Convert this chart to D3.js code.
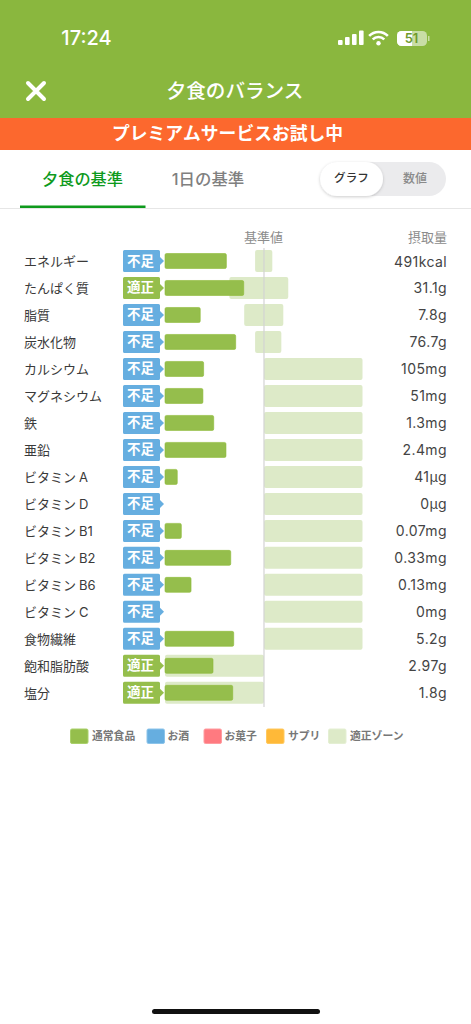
<!DOCTYPE html>
<html lang="ja"><head><meta charset="utf-8">
<script src="https://d3js.org/d3.v7.min.js"></script>
<style>
html,body{margin:0;padding:0;background:#fff}
svg{display:block}
text{font-family:Inter,"Noto Sans CJK JP","Noto Sans",sans-serif}
</style></head><body><svg id="c" width="471" height="1024" viewBox="0 0 471 1024"></svg>
<script>
const nutrients=["エネルギー","たんぱく質","脂質","炭水化物","カルシウム","マグネシウム","鉄","亜鉛","ビタミンA","ビタミンD","ビタミンB1","ビタミンB2","ビタミンB6","ビタミンC","食物繊維","飽和脂肪酸","塩分"];
const statuses=["不足","適正","不足","不足","不足","不足","不足","不足","不足","不足","不足","不足","不足","不足","不足","適正","適正"];
const percents=[62,79.5,35.6,71.4,39,38.3,49.2,61.6,12.4,0,16.5,66.4,26.3,0,69.4,48.5,68.4];
const zoneLow=[91,65,80,91,100,100,100,100,100,100,100,100,100,100,100,0,0];
const zoneHigh=[108.4,124.5,119.5,117.5,199.5,199.5,199.5,199.5,199.5,199.5,199.5,199.5,199.5,199.5,199.5,100,100];
const intakes=["491kcal","31.1g","7.8g","76.7g","105mg","51mg","1.3mg","2.4mg","41µg","0µg","0.07mg","0.33mg","0.13mg","0mg","5.2g","2.97g","1.8g"];
const legendNames=["通常食品","お酒","お菓子","サプリ","適正ゾーン"];
const legendFills=["#95BE4C","#66AEE0","#FF7A80","#FFB938","#DDEAC8"];
const legendStrokes=["#A9D06A","#8CC4EA","#FF9CA0","#FFC95F","#E4EFD3"];
const legendX=[70,146.5,203.5,266,328];

const svg=d3.select("#c");
const GREEN="#8AB73E", BAR="#95BE4C", BLUE="#66AEE0", ZONE="#DDEAC8";
const txt=(x,y,s,size,fill,w=400,anchor="start",ls=0)=>svg.append("text").attr("x",x).attr("y",y).attr("font-size",size).attr("fill",fill).attr("font-weight",w).attr("text-anchor",anchor).attr("dominant-baseline","central").attr("letter-spacing",ls).text(s);

// Header
svg.append("rect").attr("width",471).attr("height",118).attr("fill",GREEN);
svg.append("rect").attr("y",118).attr("width",471).attr("height",32).attr("fill","#FC682E");
txt(86.5,37.5,"17:24",20,"#fff",500,"middle");
[[338,5],[345,8],[352,11],[359,14.5]].forEach(([x,h])=>svg.append("rect").attr("x",x).attr("y",45-h).attr("width",4.6).attr("height",h).attr("rx",1).attr("fill","#fff"));
const wifi=svg.append("g").attr("transform","translate(378.5,45)").attr("fill","none").attr("stroke","#fff").attr("stroke-width",2.6);
[13,8].forEach(r=>wifi.append("path").attr("d",d3.arc()({innerRadius:r,outerRadius:r,startAngle:-0.8,endAngle:0.8})));
wifi.append("circle").attr("r",2.2).attr("cy",-1.8).attr("fill","#fff").attr("stroke","none");
svg.append("rect").attr("x",397).attr("y",31).attr("width",30).attr("height",15).attr("rx",4.5).attr("fill","#C9DDA6");
svg.append("path").attr("d","M401.5 31H412V46H401.5a4.5 4.5 0 0 1-4.5-4.5V35.5a4.5 4.5 0 0 1 4.5-4.5z").attr("fill","#fff");
svg.append("rect").attr("x",428).attr("y",36).attr("width",1.5).attr("height",5).attr("fill","#C9DDA6");
txt(411.5,38,"51",13,"#6f9a2c",600,"middle");
svg.append("path").attr("d","M28 83L44 99M44 83L28 99").attr("stroke","#fff").attr("stroke-width",4).attr("stroke-linecap","round");
txt(235,90.5,"夕食のバランス",19.6,"#fff",500,"middle");
txt(227.5,133.5,"プレミアムサービスお試し中",17.8,"#fff",700,"middle");

// Tabs
txt(82.5,179,"夕食の基準",16.2,"#0E9A1C",500,"middle");
txt(208,179,"1日の基準",16.4,"#808080",500,"middle");
svg.append("rect").attr("y",208).attr("width",471).attr("height",1).attr("fill","#E6E6E6");
svg.append("rect").attr("x",20).attr("y",205.5).attr("width",125.5).attr("height",2.5).attr("fill","#0E9A1C");
svg.append("defs").html('<filter id="s" x="-20%" y="-30%" width="140%" height="160%"><feDropShadow dx="0" dy="1" stdDeviation="1.6" flood-color="#000" flood-opacity=".2"/></filter>');
svg.append("rect").attr("x",320).attr("y",162).attr("width",126).attr("height",34).attr("rx",17).attr("fill","#EBEBED");
svg.append("rect").attr("x",320).attr("y",162).attr("width",63).attr("height",34).attr("rx",17).attr("fill","#fff").attr("filter","url(#s)");
txt(351.5,178,"グラフ",11.6,"#333",500,"middle");
txt(415,178,"数値",12,"#8a8a8a",500,"middle");

// Chart
const rows=nutrients.map((n,i)=>({n,i,s:statuses[i],p:percents[i],lo:zoneLow[i],hi:zoneHigh[i],v:intakes[i]}));
const x=d3.scaleLinear().domain([0,100]).range([165,264]);
const y=d3.scalePoint().domain(nutrients).range([261,692.8]);

txt(263.5,236.5,"基準値",13,"#8c8c8c",400,"middle");
txt(447,236.5,"摂取量",13,"#8c8c8c",400,"end");

svg.append("g").selectAll("rect").data(rows).join("rect")
 .attr("x",d=>x(d.lo)).attr("width",d=>x(d.hi)-x(d.lo))
 .attr("y",d=>y(d.n)-11).attr("height",22).attr("rx",2).attr("fill",ZONE);

svg.append("line").attr("x1",x(100)).attr("x2",x(100)).attr("y1",248).attr("y2",707).attr("stroke","#D3D3D3").attr("stroke-width",1.2);

svg.append("g").selectAll("rect").data(rows.filter(d=>d.p>0)).join("rect")
 .attr("x",x(0)).attr("width",d=>x(d.p)-x(0))
 .attr("y",d=>y(d.n)-7.5).attr("height",15).attr("rx",1.5).attr("fill",BAR).attr("stroke","#8DBB35").attr("stroke-width",.6);

const labels=svg.append("g").selectAll("text").data(rows).join("text")
 .attr("x",24).attr("y",d=>y(d.n)).attr("dominant-baseline","central")
 .attr("font-size",13).attr("fill","#3a3a3a");
labels.each(function(d){
 const m=d.n.match(/^(ビタミン)(.+)$/), t=d3.select(this);
 if(m){t.append("tspan").text(m[1]);t.append("tspan").attr("dx",3).text(m[2]);}
 else t.text(d.n);
});

const tag=svg.append("g").selectAll("g").data(rows).join("g").attr("transform",d=>`translate(123,${y(d.n)})`);
tag.append("path").attr("d","M1.5-11H35.5a1.5 1.5 0 0 1 1.5 1.5V-4L41 0L37 4V9.5a1.5 1.5 0 0 1-1.5 1.5H1.5a1.5 1.5 0 0 1-1.5-1.5V-9.5a1.5 1.5 0 0 1 1.5-1.5z")
 .attr("fill",d=>d.s==="不足"?BLUE:BAR);
tag.append("text").attr("x",17.5).attr("y",-0.5).attr("text-anchor","middle").attr("dominant-baseline","central")
 .attr("font-size",13.5).attr("font-weight",700).attr("fill","#fff").text(d=>d.s);

svg.append("g").selectAll("text").data(rows).join("text")
 .attr("x",447).attr("y",d=>y(d.n)).attr("text-anchor","end").attr("dominant-baseline","central")
 .attr("font-size",14).attr("letter-spacing",.4).attr("fill","#444").text(d=>d.v);

// Legend
legendNames.forEach((n,i)=>{
 svg.append("rect").attr("x",legendX[i]+.5).attr("y",729).attr("width",17.5).attr("height",14.5).attr("rx",1.5).attr("fill",legendFills[i]).attr("stroke",legendStrokes[i]).attr("stroke-width",1);
 txt(legendX[i]+(i===1||i===2?21:22),736,n,10.8,"#777",700);
});

svg.append("rect").attr("x",152).attr("y",1009).attr("width",168).attr("height",5).attr("rx",2.5).attr("fill","#111");
</script></body></html>
